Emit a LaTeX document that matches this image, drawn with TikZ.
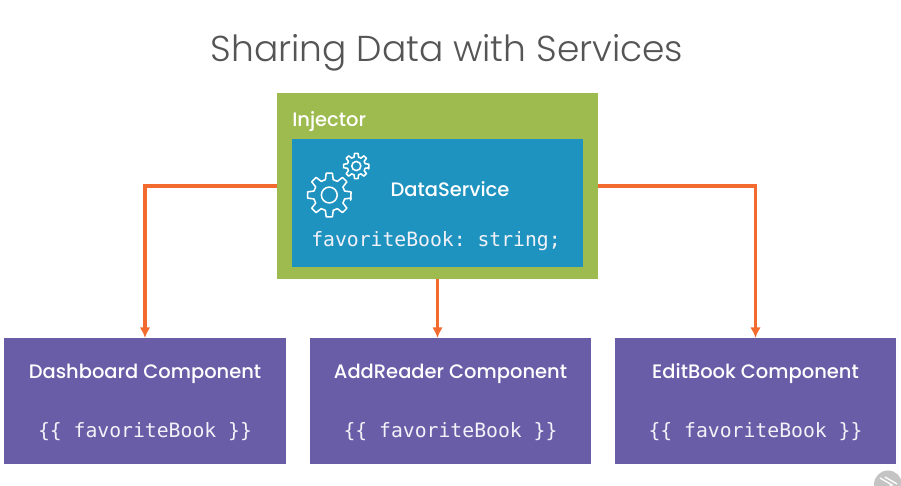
\documentclass[tikz,border=0pt]{standalone}
\usepackage{fontspec}
\setmainfont{Poppins Medium}
\newfontfamily\titlefont{Poppins Light}
\setmonofont{DejaVu Sans Mono}
\usetikzlibrary{arrows.meta}
\definecolor{injgreen}{HTML}{9DBB4E}
\definecolor{svcblue}{HTML}{1F93C0}
\definecolor{cmppurple}{HTML}{6A5DA8}
\definecolor{linkorange}{HTML}{F26A2E}
\definecolor{titlegray}{HTML}{555555}
\definecolor{badgegray}{HTML}{C4C4C4}
\newcommand{\px}{0.75pt}
\newcommand{\gearat}[4]{% x y R teeth
  \begin{scope}[shift={(#1,#2)},x=\px,y=\px]
    \pgfmathsetmacro{\st}{360/#4}
    \pgfmathsetmacro{\ri}{#3*0.72}
    \draw[gearline] (\st*-0.30:#3)
      \foreach \i in {1,...,#4}{
        -- ({\st*(\i-1)+\st*0.18}:#3)
        -- ({\st*(\i-1)+\st*0.32}:\ri)
        arc[start angle={\st*(\i-1)+\st*0.32},end angle={\st*(\i-1)+\st*0.68},radius=\ri]
        -- ({\st*(\i-1)+\st*0.82}:#3)
      } -- cycle;
    \draw[gearline] (0,0) circle[radius=#3*0.36];
  \end{scope}}
\tikzset{
  x=\px,y=\px,
  gearline/.style={draw=white,line width=1.15pt,line join=round},
  compbox/.style={fill=cmppurple,minimum width=211pt,minimum height=94.5pt,inner sep=0pt,outer sep=0pt},
  headtext/.style={text=white,font=\fontsize{14.6pt}{16pt}\selectfont,inner sep=0pt},
  codetext/.style={text=white!92!cmppurple,font=\ttfamily\fontsize{14.8pt}{16pt}\selectfont,inner sep=0pt},
  link/.style={draw=linkorange,line width=2.3pt,-{Latex[length=8pt,width=8pt]}},
}
\begin{document}
\begin{tikzpicture}
\useasboundingbox[fill=white] (0,0) rectangle (901,486);
\clip (0,0) rectangle (901,486);
\node[text=titlegray,font=\titlefont\fontsize{27pt}{32pt}\selectfont,inner sep=0pt] (title) at (447,433) {Sharing Data with Services};

\node[fill=injgreen,minimum width=240.75pt,minimum height=139.5pt,inner sep=0pt,outer sep=0pt] (injector) at (437.5,300) {};
\node[fill=svcblue,minimum width=218.25pt,minimum height=96pt,inner sep=0pt,outer sep=0pt] (service) at (437.5,283) {};
\node[headtext,anchor=west] (injlabel) at (292,364.5) {Injector};
\node[headtext] (svclabel) at (450,297) {DataService};
\node[codetext] (svccode) at (436,245) {favoriteBook: string;};
\gearat{329.3}{291}{22}{8}
\gearat{356.3}{320}{12.7}{8}

\node[compbox] (dash) at (145,85) {};
\node[compbox] (addr) at (450.5,85) {};
\node[compbox] (edit) at (755.5,85) {};
\node[headtext] (dashlabel) at (145,112.5) {Dashboard Component};
\node[headtext] (addrlabel) at (450.5,112.5) {AddReader Component};
\node[headtext] (editlabel) at (755.5,112.5) {EditBook Component};
\node[codetext] (dashcode) at (145,54) {\{\{ favoriteBook \}\}};
\node[codetext] (addrcode) at (450.5,54) {\{\{ favoriteBook \}\}};
\node[codetext] (editcode) at (755.5,54) {\{\{ favoriteBook \}\}};

\draw[link] (injector.west) -| (dash.north);
\draw[link] (injector.east) -| (edit.north);
\draw[link] (injector.south) -- (injector.south |- addr.north);

\fill[badgegray] (888,1.5) circle[radius=14];
\draw[white,line width=1pt] (880,8) -- (892,1) -- (880,-6) (885,9) -- (897,2);
\end{tikzpicture}
\end{document}
